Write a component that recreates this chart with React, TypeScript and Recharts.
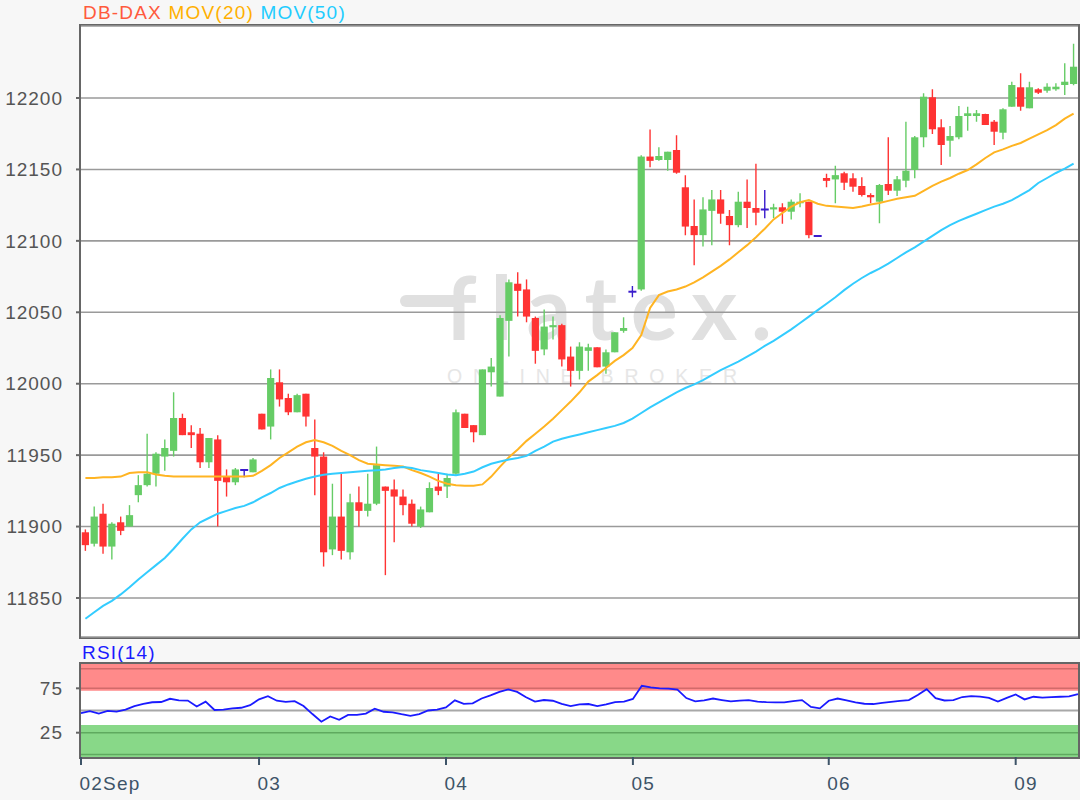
import { ComposedChart, Bar, Line, XAxis, YAxis, CartesianGrid, ReferenceArea, ReferenceLine } from 'recharts'

// day separators on the x axis (index of first candle of each day)
const dayLabels = ['02Sep', '03', '04', '05', '06', '09']
const dayStarts = [0, 20, 41, 62, 84, 105]

const priceTicks = [11850, 11900, 11950, 12000, 12050, 12100, 12150, 12200]
const rsiTicks = [25, 75]

const opens = [
  11896, 11888, 11909, 11886, 11903, 11900, 11922, 11929, 11937, 11949,
  11953, 11976, 11966, 11965, 11945, 11961, 11935, 11931, 11939.6, 11938,
  11979, 11970, 12001, 11990, 11980, 11993, 11955, 11949, 11884, 11907,
  11882, 11917, 11911, 11916, 11928, 11926, 11921, 11916, 11900, 11910,
  11928, 11928, 11937, 11979, 11971, 11964, 12008, 11991, 12044, 12070,
  12066, 12046, 12024, 12039.5, 12041, 12019, 12009, 12023, 12025.5, 12012,
  12022, 12037, 12064.4, 12066, 12159, 12156.6, 12156.6, 12163.6, 12137.5, 12110.4,
  12104, 12121, 12129, 12117.4, 12111, 12127.4, 12123, 12122, 12122, 12123.5,
  12120.4, 12126.3, 12127.4, 12103.4, 12144, 12143, 12147.3, 12143.8, 12138.4, 12132.1,
  12127.4, 12139.8, 12135.1, 12142.1, 12149.6, 12172.5, 12200.5, 12179.5, 12170.1, 12172.5,
  12187.4, 12187.4, 12188.8, 12183.4, 12175.7, 12193.9, 12207.5, 12192.8, 12206.1, 12205.1,
  12206.1, 12209.1, 12209.8,
]

const highs = [
  11898, 11914, 11916, 11903, 11907, 11915, 11936, 11965, 11952, 11961,
  11994, 11979, 11971, 11969, 11962, 11964, 11940, 11941, 11939.6, 11948,
  11979, 12010, 12010, 11993, 11993, 11993, 11975, 11952, 11930, 11938,
  11923, 11928, 11937, 11956, 11928, 11933, 11926, 11919, 11914, 11931,
  11937, 11937, 11982, 11979, 11971, 12010, 12018, 12048, 12073, 12078,
  12073, 12047, 12052, 12047, 12042, 12026, 12029, 12028, 12025.5, 12024,
  12036, 12046.5, 12068.4, 12160, 12178, 12165.5, 12162.4, 12174, 12146, 12129,
  12130.5, 12135.6, 12135.6, 12121.6, 12134.4, 12143, 12154, 12135.6, 12126, 12126.3,
  12129, 12133.3, 12127.4, 12103.8, 12147, 12152.5, 12148.4, 12147.3, 12144.5, 12133.3,
  12139.8, 12172.5, 12145.4, 12183.4, 12173.4, 12203.3, 12206.1, 12185.1, 12180.4, 12194.4,
  12193.9, 12191.6, 12189, 12184.6, 12192.8, 12211.4, 12217.3, 12211.4, 12206.8, 12210.3,
  12210.3, 12224.3, 12238,
]

const lows = [
  11883, 11886, 11881, 11877, 11894, 11900, 11917, 11928, 11928, 11939,
  11949, 11964, 11955, 11941, 11941, 11900, 11921, 11929, 11934.5, 11938,
  11968, 11961, 11984, 11978, 11980, 11970, 11922, 11872, 11880, 11877,
  11877, 11900, 11907, 11915, 11866, 11889, 11908, 11900, 11899, 11910,
  11922, 11920, 11936, 11969, 11959, 11964, 11998, 11991, 12019, 12047,
  12043, 12014, 12020, 12031, 12012, 11998, 12003, 12009, 12011.5, 12007,
  12022, 12035.7, 12060.5, 12065, 12151.5, 12156, 12149, 12147, 12104, 12083,
  12096, 12097, 12112, 12097, 12109.5, 12109, 12111, 12115.8, 12116, 12112,
  12115, 12123.5, 12101.8, 12103.2, 12137.5, 12126.3, 12135.6, 12134.4, 12131, 12126.3,
  12112.3, 12132.1, 12131.4, 12137.5, 12143.8, 12165.5, 12174.8, 12153.1, 12158.9, 12171.1,
  12177.1, 12183.4, 12181.1, 12167.1, 12171.1, 12193.9, 12191.1, 12192.8, 12202.8, 12203.7,
  12205.1, 12202.1, 12209,
]

const closes = [
  11887, 11907, 11886, 11902, 11897, 11908, 11929, 11937, 11951, 11955,
  11976, 11964, 11964, 11945, 11962, 11932, 11931, 11940, 11939.6, 11947,
  11968, 12004, 11989, 11980, 11992, 11977, 11949, 11882, 11907, 11883,
  11917, 11911, 11916, 11943, 11925, 11921, 11915, 11902, 11912, 11927,
  11925, 11934, 11980, 11969, 11966, 12010, 12012, 12046, 12071, 12065,
  12047, 12023, 12040, 12041, 12017, 12009, 12026, 12025.5, 12011.5, 12022,
  12036, 12039, 12064.4, 12159, 12156, 12159.4, 12162.4, 12147.7, 12110, 12104,
  12122, 12129, 12119, 12111, 12127.4, 12123, 12119.7, 12122, 12123.5, 12120.4,
  12127.4, 12127.4, 12104, 12103.4, 12142, 12146, 12140.7, 12137.9, 12132.1, 12130.5,
  12139.1, 12135.1, 12143.1, 12149.1, 12172.5, 12200.9, 12178.1, 12167.1, 12173.4, 12187.4,
  12189.3, 12189.3, 12181.1, 12176.4, 12192.1, 12209.1, 12193.9, 12207.5, 12203.7, 12207.9,
  12207.9, 12211.4, 12221.9,
]

const ma20 = [
  11934, 11934, 11934.5, 11934.5, 11935, 11937.5, 11938, 11938, 11936.5, 11935.5,
  11935, 11935, 11935, 11935, 11935, 11935, 11935, 11935, 11935, 11935.5,
  11939, 11943, 11948, 11952, 11956, 11959, 11960.6, 11959, 11956.5, 11953,
  11950, 11946.5, 11944, 11943.5, 11943, 11942.5, 11942, 11939.5, 11937.5, 11935,
  11932, 11930, 11929, 11928.5, 11928.5, 11929.5, 11935, 11942, 11948.5, 11954,
  11960, 11965, 11970, 11975.5, 11981.5, 11987.5, 11994, 12001.5, 12006, 12011,
  12016, 12020, 12025, 12034, 12053, 12062, 12064.5, 12066, 12068, 12071,
  12074.5, 12078.5, 12082.5, 12087, 12092, 12097, 12102.5, 12108.5, 12115, 12119.5,
  12124, 12127, 12128.5, 12126, 12124.5, 12124, 12123.5, 12123, 12124, 12125.5,
  12126.5, 12128, 12129.5, 12130.5, 12131.5, 12135, 12138.5, 12141.5, 12144, 12147,
  12149.6, 12153.5, 12158, 12162, 12164, 12166.5, 12168.5, 12171.5, 12174.5, 12177.5,
  12181, 12185.5, 12189,
]

const ma50 = [
  11835.5, 11840, 11844.5, 11848, 11852.5, 11857.5, 11863, 11868, 11873, 11878,
  11884.5, 11891.5, 11898, 11903, 11906, 11909, 11911, 11913, 11914.5, 11917,
  11920.5, 11923.5, 11927, 11929.5, 11931.5, 11933.5, 11935, 11936.3, 11937, 11937.5,
  11938, 11938.5, 11939, 11939.5, 11940, 11941, 11941.7, 11941, 11939.5, 11938.5,
  11937.5, 11936.5, 11936, 11937, 11938.5, 11941.5, 11944, 11945.5, 11947, 11948,
  11949.5, 11953, 11956, 11959.5, 11961.5, 11963, 11964.5, 11966, 11967.5, 11969,
  11970.5, 11972.5, 11975.5, 11979.5, 11983.5, 11987, 11990.5, 11994, 11997, 11999.5,
  12002.5, 12006, 12009.5, 12012.5, 12015.5, 12019, 12022.5, 12026.5, 12030, 12034,
  12038, 12042.5, 12047, 12051.5, 12056, 12060.5, 12065.5, 12070, 12074, 12077.5,
  12080.5, 12084, 12088, 12092, 12095.5, 12099.5, 12103.5, 12107.5, 12111, 12114,
  12116.5, 12119, 12121.5, 12124, 12126, 12128.5, 12132, 12135.5, 12140.5, 12144,
  12147.5, 12150.5, 12154,
]

const rsi = [
  47, 49.2, 46.5, 49.5, 48.8, 51, 55, 57.5, 59.3, 59.6,
  63.2, 61.5, 61.2, 54.5, 60, 50.6, 51, 52.5, 53.1, 56,
  62.6, 66.2, 61, 59.8, 60.6, 55, 46, 37.4, 43.3, 39.6,
  45, 45, 46.5, 52, 48.6, 48, 45.8, 44, 46, 50,
  51, 53.5, 61.5, 57.5, 58, 63.5, 67, 71, 73.8, 71,
  65, 60, 61.8, 61, 57.5, 55, 57, 57.3, 55, 57,
  59.5, 60, 63, 77.9, 76, 75, 74.6, 73.5, 64, 60.3,
  61.5, 63.5, 61.8, 60.3, 61.2, 61.7, 59.9, 59.4, 59.2, 59.2,
  60.6, 61.7, 54, 52.4, 61, 63.5, 61.5, 59.2, 57.6, 57.3,
  58.7, 59.7, 60.9, 61.7, 67.5, 74, 64, 61.3, 61.7, 65.2,
  66.2, 65.7, 64.3, 60, 64.2, 68, 62.5, 65.5, 64.5, 65,
  65.5, 66, 68.5,
]

const GREEN = '#66CC66'
const RED = '#FF3333'
const DOJI = '#3a1ccc'
const FONT = "'Liberation Sans', Arial, sans-serif"
const WATERMARK = '#E0E0E0'

const data = opens.map((o, i) => ({
  t: `c${i}`,
  open: o,
  high: highs[i],
  low: lows[i],
  close: closes[i],
  range: [lows[i], highs[i]],
  ma20: ma20[i],
  ma50: ma50[i],
  rsi: rsi[i],
}))
const dayTicks = dayStarts.map(i => `c${i}`)

// candle drawn inside the bar that spans low..high
const Candle = (props: any) => {
  const { x, y, width, height, payload } = props
  const { open, close, high, low } = payload
  const ratio = high > low ? height / (high - low) : 0
  const yOf = (v: number) => y + (high - v) * ratio
  const cx = x + width / 2
  const doji = open === close
  const color = doji ? DOJI : close > open ? GREEN : RED
  const top = yOf(Math.max(open, close))
  const bot = yOf(Math.min(open, close))
  return (
    <g>
      <line x1={cx} x2={cx} y1={y} y2={y + height} stroke={color} strokeWidth={1.4} />
      {doji
        ? <line x1={cx - 4} x2={cx + 4} y1={top} y2={top} stroke={color} strokeWidth={2} />
        : <rect x={cx - 3.6} y={top} width={7.2} height={Math.max(bot - top, 1.5)} fill={color} />}
    </g>
  )
}

const DayTick = (props: any) => {
  const { x, y, payload } = props
  const idx = dayTicks.indexOf(payload.value)
  return (
    <text x={x - 1.5} y={y + 21} fill="#3e5468" fontSize={19} fontFamily={FONT} letterSpacing={1.2}>
      {dayLabels[idx]}
    </text>
  )
}

const tickStyle = { fill: '#555', fontSize: 19, fontFamily: FONT, letterSpacing: 1 }

export default function App() {
  return (
    <div style={{ position: 'fixed', left: 0, top: 0, width: 1080, height: 800, background: '#F7F7F7', fontFamily: FONT, overflow: 'hidden' }}>
      <div style={{ position: 'absolute', left: 83, top: 2, fontSize: 19, lineHeight: '22px', letterSpacing: 1.2, whiteSpace: 'nowrap' }}>
        <span style={{ color: '#FF5A3C' }}>DB-DAX</span>{' '}
        <span style={{ color: '#FFB000' }}>MOV(20)</span>{' '}
        <span style={{ color: '#22CCFF' }}>MOV(50)</span>
      </div>

      {/* main plot background, watermark and frame */}
      <div style={{ position: 'absolute', left: 79, top: 24, width: 1001, height: 615, background: '#fff', border: '2px solid #666', boxSizing: 'border-box' }} />
      <div style={{ position: 'absolute', left: 400, top: 295, width: 60, height: 12, borderRadius: 6, background: WATERMARK }} />
      <div style={{ position: 'absolute', left: 445, top: 262, fontSize: 88, lineHeight: '88px', fontFamily: 'Lato, sans-serif', fontWeight: 700, color: WATERMARK, letterSpacing: 14, whiteSpace: 'nowrap' }}>
        flatex.
      </div>
      <div style={{ position: 'absolute', left: 447, top: 367, fontSize: 19.5, lineHeight: '19.5px', color: '#E6E6E6', letterSpacing: 10.8, whiteSpace: 'nowrap' }}>
        ONLINE BROKER
      </div>

      <div style={{ position: 'absolute', left: 0, top: 0 }}>
        <ComposedChart width={1080} height={640} data={data} margin={{ top: 26, right: 2, bottom: 3, left: 0 }}>
          <CartesianGrid vertical={false} stroke="#9a9a9a" strokeWidth={1.6} />
          <XAxis dataKey="t" hide />
          <YAxis
            width={81}
            domain={[11822.7, 12250.4]}
            ticks={priceTicks}
            allowDataOverflow
            axisLine={false}
            tickSize={5}
            tickMargin={13}
            tickLine={{ stroke: '#666', strokeWidth: 2 }}
            tick={tickStyle}
          />
          <Bar dataKey="range" shape={(p: any) => <Candle {...p} />} isAnimationActive={false} />
          <Line type="linear" dataKey="ma20" stroke="#FFB422" strokeWidth={2} dot={false} isAnimationActive={false} />
          <Line type="linear" dataKey="ma50" stroke="#33CCFF" strokeWidth={2} dot={false} isAnimationActive={false} />
        </ComposedChart>
      </div>

      <div style={{ position: 'absolute', left: 82, top: 642, fontSize: 19, lineHeight: '22px', letterSpacing: 1.2, color: '#1a1aff' }}>
        RSI(14)
      </div>
      <div style={{ position: 'absolute', left: 79, top: 662, width: 1001, height: 97, background: '#fff', border: '2px solid #666', boxSizing: 'border-box' }} />
      <div style={{ position: 'absolute', left: 0, top: 640 }}>
        <ComposedChart width={1080} height={160} data={data} margin={{ top: 24, right: 2, bottom: 0, left: 0 }}>
          <XAxis
            dataKey="t"
            ticks={dayTicks}
            interval={0}
            height={43}
            axisLine={false}
            tickSize={8}
            tickMargin={4}
            tickLine={{ stroke: '#3e5468', strokeWidth: 2 }}
            tick={<DayTick />}
          />
          <YAxis
            width={81}
            domain={[-2.4, 102.4]}
            ticks={rsiTicks}
            allowDataOverflow
            axisLine={false}
            tickSize={5}
            tickMargin={13}
            tickLine={{ stroke: '#666', strokeWidth: 2 }}
            tick={tickStyle}
          />
          <ReferenceArea y1={72.3} y2={102.4} fill="#FF8A8A" fillOpacity={1} stroke="none" />
          <ReferenceArea y1={-2.4} y2={33.7} fill="#88D888" fillOpacity={1} stroke="none" />
          <ReferenceLine y={97} stroke="#D26A6A" strokeWidth={1.5} />
          <ReferenceLine y={75} stroke="#D26A6A" strokeWidth={1.5} />
          <ReferenceLine y={50} stroke="#A8A8A8" strokeWidth={2} />
          <ReferenceLine y={25} stroke="#5FAA5F" strokeWidth={1.5} />
          <ReferenceLine y={0.5} stroke="#5FAA5F" strokeWidth={1.5} />
          <Line type="linear" dataKey="rsi" stroke="#1a1aff" strokeWidth={1.8} dot={false} isAnimationActive={false} />
        </ComposedChart>
      </div>
    </div>
  )
}
